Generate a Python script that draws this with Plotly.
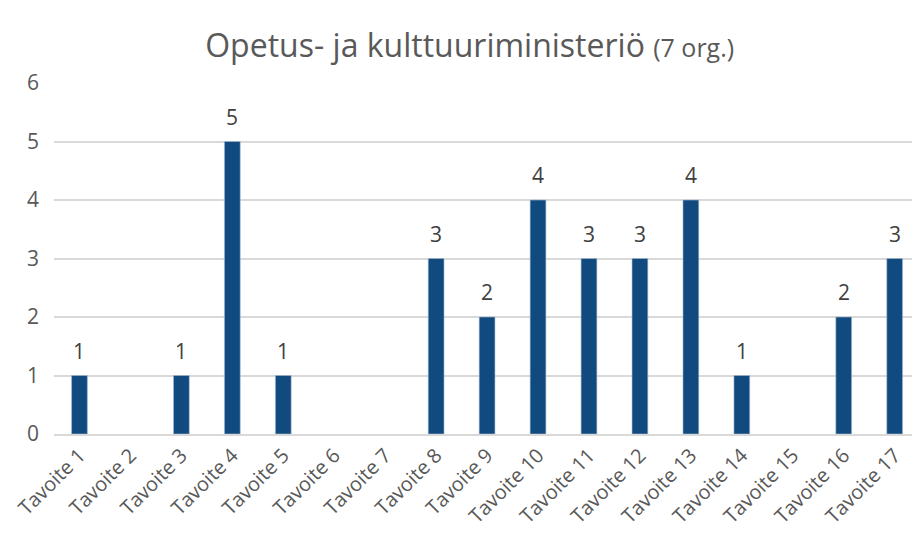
import plotly.graph_objects as go

categories = [f"Tavoite {i}" for i in range(1, 18)]
values = [1, 0, 1, 5, 1, 0, 0, 3, 2, 4, 3, 3, 4, 1, 0, 2, 3]
y_ticks = [0, 1, 2, 3, 4, 5, 6]

fig = go.Figure(go.Bar(
    x=categories, y=values,
    marker=dict(color="#114A7E",
                line=dict(color="#A9BCD3", width=[0.6 if v else 0 for v in values])),
    width=0.31,
))

for c, v in zip(categories, values):
    if v:
        fig.add_annotation(x=c, y=v, text=str(v), showarrow=False,
                           yanchor="bottom", yshift=9,
                           font=dict(size=21, color="#404040", family="Open Sans"))

fig.update_layout(
    width=912, height=538,
    margin=dict(l=54, r=0, t=83, b=104),
    paper_bgcolor="white", plot_bgcolor="white",
    title=dict(
        text="Opetus- ja kulttuuriministeriö <span style='font-size:25px'>(7 org.)</span>",
        x=0.515, xanchor="center", y=0.915, yanchor="middle",
        font=dict(size=32, color="#595959", family="Open Sans"),
    ),
    showlegend=False,
    font=dict(family="Open Sans", color="#595959"),
)
fig.update_xaxes(
    tickangle=-45, tickfont=dict(size=20, color="#595959"),
    range=[-0.5, 16.34], showgrid=False, automargin=False,
    showline=True, linecolor="#D9D9D9", linewidth=1.5, ticks="",
)
fig.update_yaxes(
    range=[0, 6], tickvals=y_ticks, tickfont=dict(size=21, color="#595959"),
    showgrid=True, gridcolor="#D9D9D9", gridwidth=1.5, zeroline=False,
    ticklabelstandoff=14, automargin=False,
)

fig.write_html("out.html", config={"displayModeBar": False},
               post_script="document.body.style.margin='0';")
